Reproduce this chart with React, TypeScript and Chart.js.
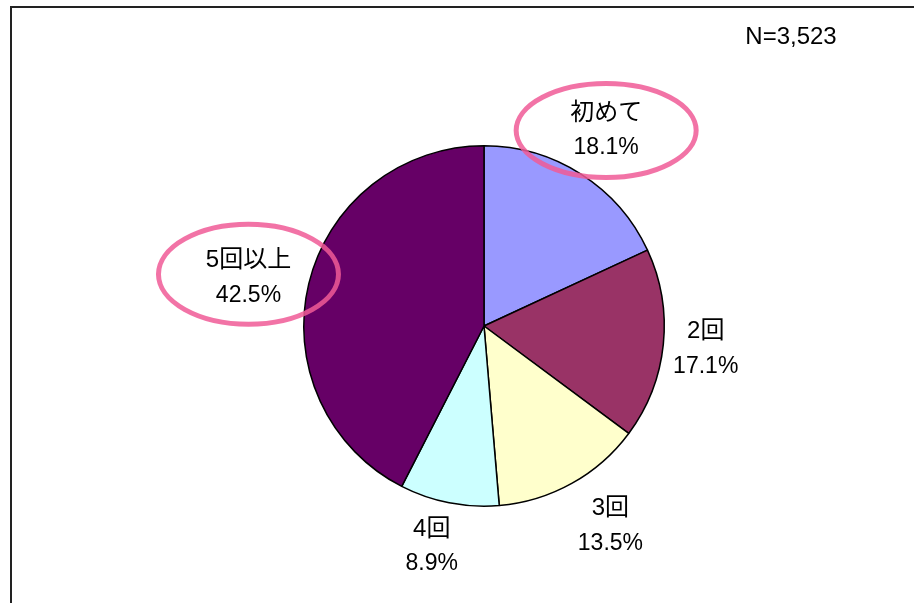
import React, { useEffect, useRef } from "react";
import { Chart, registerables } from "chart.js";

Chart.register(...registerables);

const categories = ["初めて", "2回", "3回", "4回", "5回以上"];
const percentValues = [18.1, 17.1, 13.5, 8.9, 42.5];
const percentLabels = ["18.1%", "17.1%", "13.5%", "8.9%", "42.5%"];
const sliceColors = ["#9999FF", "#993366", "#FFFFCC", "#CCFFFF", "#660066"];
const highlighted = [true, false, false, false, true];
const sampleNote = "N=3,523";

// layout tweaks for label placement (pixels relative to default spot)
const labelShift: [number, number][] = [
  [-1, -2.5],
  [-6, 0],
  [15, 0],
  [-8, -4],
  [-13, 6],
];

const FONT = '"Liberation Sans", "Noto Sans CJK JP", sans-serif';

const labelPlugin = {
  id: "pieLabels",
  afterDraw(chart: any) {
    const ctx = chart.ctx;
    const meta = chart.getDatasetMeta(0);
    ctx.save();
    ctx.textAlign = "center";
    ctx.textBaseline = "middle";
    meta.data.forEach((arc: any, i: number) => {
      const { x, y, startAngle, endAngle, outerRadius } = arc.getProps(
        ["x", "y", "startAngle", "endAngle", "outerRadius"],
        true
      );
      const mid = (startAngle + endAngle) / 2;
      const r = outerRadius * 1.27;
      const cx = x + Math.cos(mid) * r + labelShift[i][0];
      const cy = y + Math.sin(mid) * r + labelShift[i][1];
      ctx.fillStyle = "#000";
      ctx.font = `24px ${FONT}`;
      ctx.fillText(categories[i], cx, cy - 17.5);
      ctx.font = `23px ${FONT}`;
      ctx.fillText(percentLabels[i], cx, cy + 17.5);
      if (highlighted[i]) {
        ctx.beginPath();
        ctx.ellipse(cx, cy - (i === 4 ? 4 : 0), 90, i === 4 ? 50 : 47, 0, 0, Math.PI * 2);
        ctx.strokeStyle = "rgba(240, 90, 150, 0.85)";
        ctx.lineWidth = 5;
        ctx.stroke();
      }
    });
    ctx.font = `24px ${FONT}`;
    ctx.fillStyle = "#000";
    ctx.fillText(sampleNote, 791, 37);
    ctx.restore();
  },
};

export default function App() {
  const ref = useRef<HTMLCanvasElement | null>(null);
  useEffect(() => {
    if (!ref.current) return;
    const chart = new Chart(ref.current, {
      type: "pie",
      data: {
        labels: categories,
        datasets: [
          {
            data: percentValues,
            backgroundColor: sliceColors,
            borderColor: "#000",
            borderWidth: 1.5,
          },
        ],
      },
      options: {
        animation: false,
        responsive: false,
        maintainAspectRatio: false,
        layout: { padding: { left: 303, right: 249, top: 145, bottom: 96 } },
        plugins: {
          legend: { display: false },
          tooltip: { enabled: false },
        },
      },
      plugins: [labelPlugin],
    });
    return () => chart.destroy();
  }, []);
  return (
    <div style={{ position: "absolute", left: 0, top: 0, width: 914, height: 603, background: "#fff" }}>
      <div
        style={{
          position: "absolute",
          left: 10,
          top: 6,
          width: 910,
          height: 610,
          borderTop: "2px solid #222",
          borderLeft: "2px solid #222",
        }}
      />
      <canvas ref={ref} width={914} height={603} style={{ position: "absolute", left: 0, top: 0 }} />
    </div>
  );
}
